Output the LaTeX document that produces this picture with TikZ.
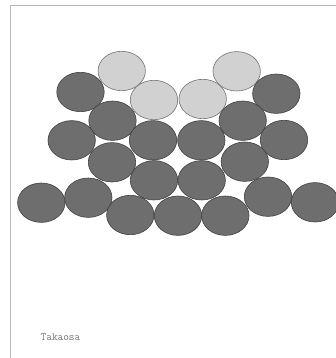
\documentclass[tikz,border=0pt]{standalone}
\begin{document}
\begin{tikzpicture}[x=1pt, y=-1pt,
  ball/.style={draw=black!75, line width=0.6pt, fill=black!57},
  lite/.style={draw=black!55, line width=0.6pt, fill=black!18},
  frame/.style={draw=black!28, line width=0.9pt},
  tag/.style={font=\ttfamily\fontsize{11}{13}\selectfont, text=black!55},
]
\useasboundingbox (0,0) rectangle (336,358);
% frame
\draw[frame] (10,358) -- (10,5) -- (336,5);
% light balls on top
\foreach \x/\y in {121.7/71, 236.7/71.3, 154/100, 202.7/99}
  \draw[lite] (\x,\y) ellipse[x radius=23.7, y radius=19.7];
% dark balls
\foreach \x/\y in {80.5/92, 276.3/93.7,
                   112.5/120.7, 242.7/120.7,
                   71.7/140.3, 153/140.3, 201.3/140.3, 284/140,
                   112/162.3, 244.8/161.7,
                   154/180.3, 201.7/180.3,
                   41.3/202.7, 88.3/197.7, 268/196.7, 315/202.3,
                   130.3/215, 178/215.7, 225.3/215.7}
  \draw[ball] (\x,\y) ellipse[x radius=23.7, y radius=19.7];
% label
\node[tag] (name) at (60.5,337.3) {Takaosa};
\end{tikzpicture}
\end{document}
